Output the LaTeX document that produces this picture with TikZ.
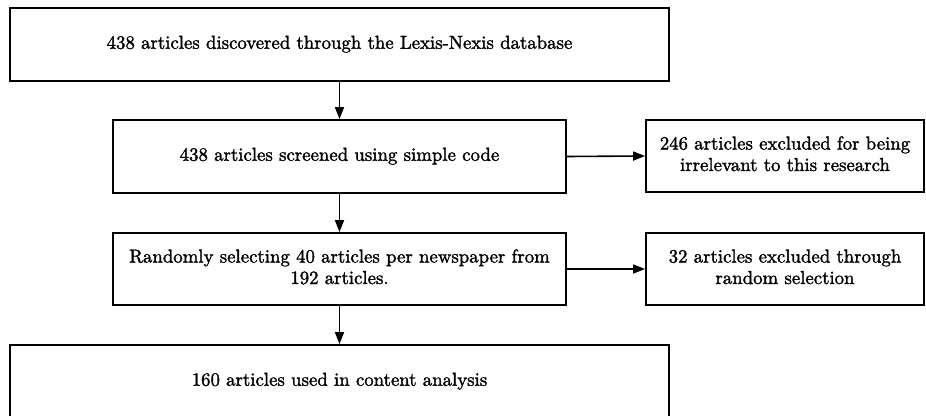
\documentclass[tikz,border=0pt]{standalone}
\usepackage{graphicx}
\usepackage{fontspec}
\newfontfamily\fcfont{lmroman10-regular.otf}[FakeBold=1.6]
\usetikzlibrary{arrows.meta}
\newcommand\smalltx[1]{\scalebox{1.88}{\fcfont\fontsize{10}{11.4}\selectfont\begin{tabular}{@{}c@{}}#1\end{tabular}}}
\tikzset{
  flowbox/.style={draw=black, line width=1.8pt, inner sep=0pt, align=center, fill=white},
  flowarrow/.style={line width=1.6pt, -{Triangle[length=12pt,width=9pt]}}
}
\begin{document}
\begin{tikzpicture}[x=1pt,y=1pt]
\useasboundingbox (0,0) rectangle (926,415);
\node[flowbox, minimum width=659pt, minimum height=73pt] (b1) at (339.5,370.5) {\smalltx{438 articles discovered through the Lexis-Nexis database}};
\node[flowbox, minimum width=453pt, minimum height=73pt] (b2) at (339.5,258.5) {\smalltx{438 articles screened using simple code}};
\node[flowbox, minimum width=278pt, minimum height=72pt] (s1) at (785,259) {\smalltx{246 articles excluded for being\\irrelevant to this research}};
\node[flowbox, minimum width=453pt, minimum height=72pt] (b3) at (339.5,146) {\smalltx{Randomly selecting 40 articles per newspaper from\\192 articles.}};
\node[flowbox, minimum width=278pt, minimum height=72pt] (s2) at (785,146) {\smalltx{32 articles excluded through\\random selection}};
\node[flowbox, minimum width=659pt, minimum height=73pt] (b4) at (339.5,33.5) {\smalltx{160 articles used in content analysis}};
\draw[flowarrow] (b1.south) -- (b2.north);
\draw[flowarrow] (b2.south) -- (b3.north);
\draw[flowarrow] (b3.south) -- (b4.north);
\draw[flowarrow] (b2.east) -- (s1.west);
\draw[flowarrow] (b3.east) -- (s2.west);
\end{tikzpicture}
\end{document}
